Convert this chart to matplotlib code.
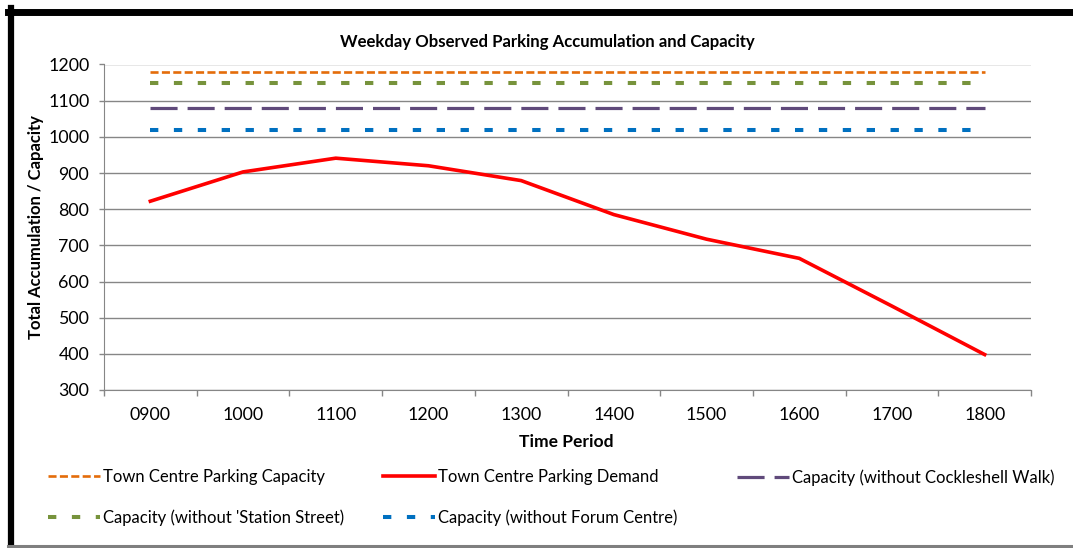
import numpy as np
import matplotlib.pyplot as plt
from matplotlib.lines import Line2D

plt.rcParams['font.family'] = ['Lato', 'DejaVu Sans']
plt.rcParams['lines.scale_dashes'] = False

# data
periods = ['0900', '1000', '1100', '1200', '1300', '1400', '1500', '1600', '1700', '1800']
demand = [822, 903, 941, 920, 879, 785, 717, 664, 532, 398]
cap_total = 1178
cap_no_station = 1149
cap_no_cockleshell = 1081
cap_no_forum = 1019

W, H = 1073, 548
fig = plt.figure(figsize=(W / 100, H / 100), dpi=100)
ax = fig.add_axes([104 / W, 1 - 390 / H, (1031 - 104) / W, (390 - 64.5) / H])

x = np.arange(len(periods))
ones = np.ones(len(periods))

l_tot, = ax.plot(x, cap_total * ones, color='#E46C0A', lw=1.9, dashes=(5.8, 2.4),
                 label='Town Centre Parking Capacity')
l_dem, = ax.plot(x, demand, color='#FF0000', lw=2.6, label='Town Centre Parking Demand')
l_coc, = ax.plot(x, cap_no_cockleshell * ones, color='#604A7B', lw=2.3, dashes=(19.5, 7.2),
                 label='Capacity (without Cockleshell Walk)')
l_sta, = ax.plot(x, cap_no_station * ones, color='#77933C', lw=2.9, dashes=(6.0, 11.2),
                 label="Capacity (without 'Station Street)")
l_for, = ax.plot(x, cap_no_forum * ones, color='#0070C0', lw=2.9, dashes=(6.0, 11.2),
                 label='Capacity (without Forum Centre)')

ax.set_xlim(-0.5, len(periods) - 0.5)
ax.set_ylim(300, 1200)
ax.set_yticks(np.arange(300, 1201, 100))
ax.set_xticks(np.arange(-0.5, len(periods), 1.0))
ax.set_xticklabels([])
ax.set_xticks(x, minor=True)
ax.set_xticklabels(periods, minor=True)
ax.tick_params(axis='x', which='major', length=4.5, color='#868686', width=1)
ax.tick_params(axis='x', which='minor', length=0, pad=12, labelsize=12.8)
ax.tick_params(axis='y', length=3.6, color='#868686', width=1, pad=7, labelsize=12.8)
ax.grid(axis='y', color='#868686', lw=1)
ax.set_axisbelow(True)
for s in ['top', 'right']:
    ax.spines[s].set_visible(False)
for s in ['left', 'bottom']:
    ax.spines[s].set_color('#868686')

fig.text(547 / W, 1 - 42 / H, 'Weekday Observed Parking Accumulation and Capacity',
         ha='center', va='center', fontsize=12.1, fontweight='bold')
fig.text(36 / W, 1 - 227 / H, 'Total Accumulation / Capacity', rotation=90,
         ha='center', va='center', fontsize=12, fontweight='bold')
fig.text(566 / W, 1 - 442 / H, 'Time Period', ha='center', va='center',
         fontsize=12.6, fontweight='bold')

# legend, one column at a time so the columns sit where they do in the reference
cols = [([l_tot, l_sta], 48), ([l_dem, l_for], 383), ([l_coc], 737)]
for hs, xl in cols:
    fig.legend(handles=hs, labels=[h.get_label() for h in hs], loc='upper left',
               bbox_to_anchor=(xl / W, 1 - 469 / H), frameon=False, fontsize=12,
               borderpad=0, borderaxespad=0, handlelength=3.1, handletextpad=0.2,
               labelspacing=1.45)

# border of the chart object
fig.add_artist(Line2D([8 / W, 1], [1 - 11.5 / H] * 2, color='black', lw=5))
fig.add_artist(Line2D([10.5 / W] * 2, [0, 1 - 8 / H], color='black', lw=4.5))
fig.add_artist(Line2D([8 / W, 1], [1 - 546 / H] * 2, color='#7F7F7F', lw=2.2))

fig.savefig('out.png', dpi=100)
